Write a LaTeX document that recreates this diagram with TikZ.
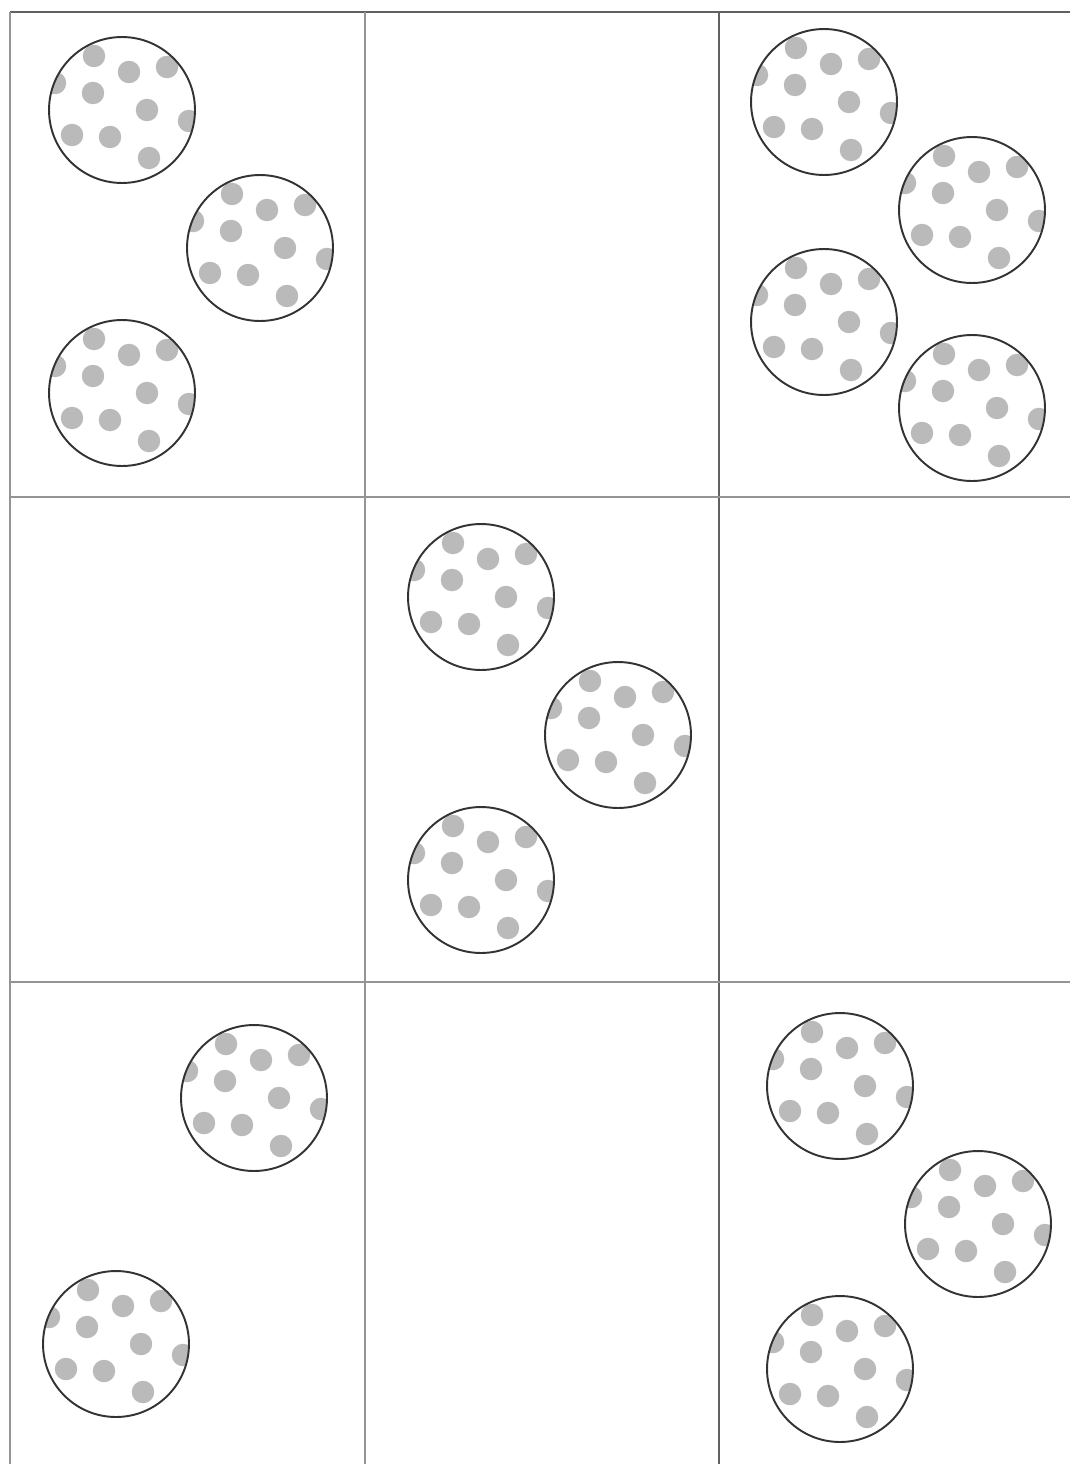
\documentclass[tikz,border=0pt]{standalone}

\begin{document}
\begin{tikzpicture}[x=0.02cm, y=-0.02cm,
  rule/.style={draw=black!42, line width=1pt},
  heavyrule/.style={draw=black!62, line width=1.5pt},
  spot/.style={fill=black!27},
  ball/.style={circle, draw=black!80, line width=1.1pt, minimum size=2.92cm, inner sep=0pt,
    path picture={
      \foreach \dx/\dy in {-28/-54, 7/-38, 45/-43, -29/-17, 25/0, 67/11, -50/25, -12/27, 27/48, -67/-27}
        \fill[spot, shift={(path picture bounding box.center)}] (\dx,\dy) circle (6.4pt);
    }}
]
\useasboundingbox[fill=white] (0,0) rectangle (1070,1464);

% grid
\coordinate (tl) at (10,12);
\coordinate (tr) at (1070,12);
\draw[heavyrule] (tl) -- (tr);
\draw[rule] (tl) -- (10,1464);
\draw[rule] (365,12) -- (365,1464);
\draw[heavyrule] (719,12) -- (719,1464);
\draw[rule] (10,497) -- (1070,497);
\draw[rule] (10,982) -- (1070,982);

% top row
\node[ball] (a1) at (122,110) {};
\node[ball] (a2) at (260,248) {};
\node[ball] (a3) at (122,393) {};
\node[ball] (c1) at (824,102) {};
\node[ball] (c2) at (972,210) {};
\node[ball] (c3) at (824,322) {};
\node[ball] (c4) at (972,408) {};

% middle row
\node[ball] (e1) at (481,597) {};
\node[ball] (e2) at (618,735) {};
\node[ball] (e3) at (481,880) {};

% bottom row
\node[ball] (g1) at (254,1098) {};
\node[ball] (g2) at (116,1344) {};
\node[ball] (i1) at (840,1086) {};
\node[ball] (i2) at (978,1224) {};
\node[ball] (i3) at (840,1369) {};
\end{tikzpicture}
\end{document}
